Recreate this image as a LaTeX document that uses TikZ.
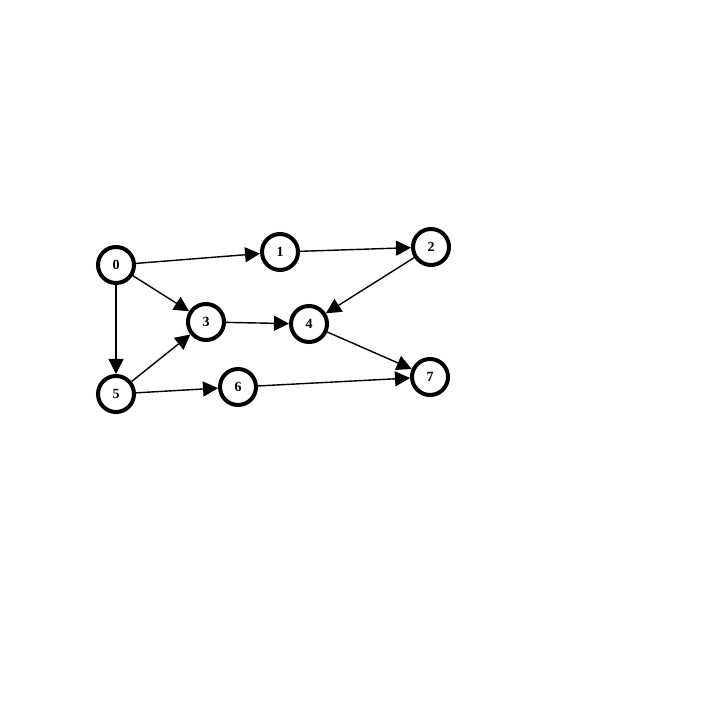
\documentclass[tikz,border=0pt]{standalone}
\usepackage{fontspec}
\setmainfont{Liberation Serif}
\usetikzlibrary{arrows.meta,positioning}

\begin{document}
\begin{tikzpicture}[x=1pt,y=1pt,
  vertex/.style={circle,draw,line width=4pt,minimum size=36pt,inner sep=0pt,font=\bfseries\fontsize{14}{14}\selectfont},
  edge/.style={line width=1.4pt,-{Triangle[length=15pt,width=15pt]}}]
  \useasboundingbox (0,0) rectangle (719,719);

  \node[vertex] (n0) at (116,454) {0};
  \node[vertex] (n1) at (280,467) {1};
  \node[vertex] (n2) at (431,472) {2};
  \node[vertex] (n3) at (206,397) {3};
  \node[vertex] (n4) at (309,395) {4};
  \node[vertex] (n5) at (116,325) {5};
  \node[vertex] (n6) at (238,332) {6};
  \node[vertex] (n7) at (430,342) {7};

  \draw[edge] (n0) -- (n1);
  \draw[edge] (n0) -- (n3);
  \draw[edge] (n0) -- (n5);
  \draw[edge] (n1) -- (n2);
  \draw[edge] (n2) -- (n4);
  \draw[edge] (n3) -- (n4);
  \draw[edge] (n4) -- (n7);
  \draw[edge] (n5) -- (n3);
  \draw[edge] (n5) -- (n6);
  \draw[edge] (n6) -- (n7);

\end{tikzpicture}
\end{document}
